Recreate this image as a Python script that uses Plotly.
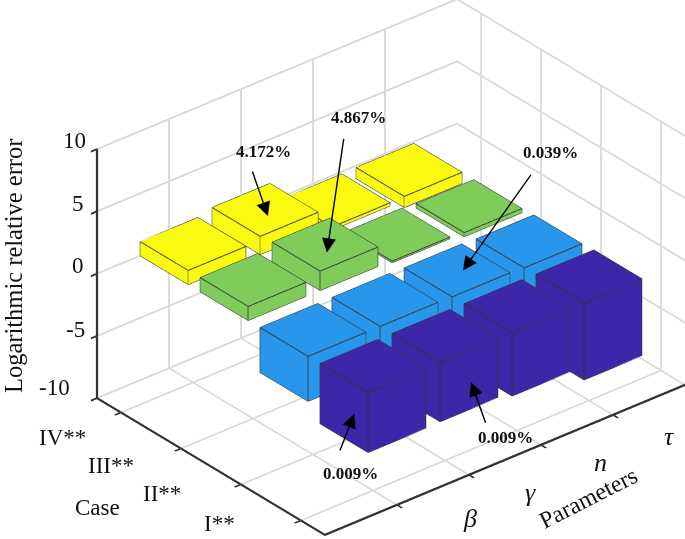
import math

import plotly.graph_objects as go

WIDTH = 685
HEIGHT = 539

cases = ['I**', 'II**', 'III**', 'IV**']
parameters = ['<i>β</i>', '<i>γ</i>', '<i>n</i>', '<i>τ</i>']
z_ticks = [-10, -5, 0, 5, 10]

# bar heights
case_1 = [-4.82, -4.76, -5.08, -6.18]
case_2 = [-3.6, -3.5, -3.3, -3.4]
case_3 = [1.12, 1.55, 0.12, 0.32]
case_4 = [1.12, 1.45, 0.24, 0.88]

# level each bar starts from (the back right bars sit a bit below zero in the picture)
base_1 = [0, 0, -0.02, -0.04]
base_2 = [0, 0, -0.04, -0.12]
base_3 = [0, 0, -0.18, -0.5]
base_4 = [0, 0, -0.44, -1.04]

colors = ['#3D27A8', '#2896EA', '#7FCC5A', '#F9FA0F']
EDGE = '#333333'
GRID = '#D8D8D8'
SERIF = 'Liberation Serif'
BAR = 0.8


def px(x, y):
    return x / WIDTH, 1 - y / HEIGHT


def bar_mesh(xc, yc, base, value, color):
    x0, x1 = xc - BAR / 2, xc + BAR / 2
    y0, y1 = yc - BAR / 2, yc + BAR / 2
    z0, z1 = min(base, base + value), max(base, base + value)
    return go.Mesh3d(
        x=[x0, x1, x1, x0, x0, x1, x1, x0],
        y=[y0, y0, y1, y1, y0, y0, y1, y1],
        z=[z0, z0, z0, z0, z1, z1, z1, z1],
        i=[0, 0, 4, 4, 0, 0, 1, 1, 2, 2, 3, 3],
        j=[1, 2, 5, 6, 1, 5, 2, 6, 3, 7, 0, 4],
        k=[2, 3, 6, 7, 5, 4, 6, 5, 7, 6, 4, 7],
        color=color,
        flatshading=True,
        lighting=dict(ambient=1, diffuse=0, specular=0, roughness=1, fresnel=0),
        hoverinfo='skip',
        showscale=False,
    )


def bar_edges(xc, yc, base, value):
    x0, x1 = xc - BAR / 2, xc + BAR / 2
    y0, y1 = yc - BAR / 2, yc + BAR / 2
    z0, z1 = min(base, base + value), max(base, base + value)
    xs, ys, zs = [], [], []
    for z in (z0, z1):
        xs += [x0, x1, x1, x0, x0, None]
        ys += [y0, y0, y1, y1, y0, None]
        zs += [z, z, z, z, z, None]
    for x, y in ((x0, y0), (x1, y0), (x1, y1), (x0, y1)):
        xs += [x, x, None]
        ys += [y, y, None]
        zs += [z0, z1, None]
    return go.Scatter3d(x=xs, y=ys, z=zs, mode='lines',
                        line=dict(color=EDGE, width=2),
                        hoverinfo='skip', showlegend=False)


traces = []
rows = zip([case_1, case_2, case_3, case_4], [base_1, base_2, base_3, base_4])
for row, (values, bases) in enumerate(rows):
    for col, value in enumerate(values):
        traces.append(bar_mesh(col + 1, row + 1, bases[col], value, colors[row]))
        traces.append(bar_edges(col + 1, row + 1, bases[col], value))

fig = go.Figure(data=traces)

# view(-39.8, 30), orthographic
azimuth = math.radians(39.8)
elevation = math.radians(30)
scale = 1.705
direction = (-math.sin(azimuth) * math.cos(elevation),
             -math.cos(azimuth) * math.cos(elevation),
             math.sin(elevation))
center = dict(x=-0.1412, y=0.1117, z=-0.0081)
eye = dict(x=center['x'] + scale * direction[0],
           y=center['y'] + scale * direction[1],
           z=center['z'] + scale * direction[2])


def axis(vals, rng):
    return dict(
        range=rng,
        tickvals=vals,
        showticklabels=False,
        title=dict(text=''),
        showbackground=False,
        showgrid=True,
        gridcolor=GRID,
        gridwidth=4,
        zeroline=False,
        showline=True,
        linecolor=EDGE,
        linewidth=5,
        ticks='outside',
        ticklen=8,
        tickwidth=4,
        tickcolor=EDGE,
        showspikes=False,
    )


fig.update_layout(
    width=WIDTH,
    height=HEIGHT,
    margin=dict(l=0, r=0, t=0, b=0),
    paper_bgcolor='white',
    showlegend=False,
    font=dict(family=SERIF, color='#111111'),
    scene=dict(
        domain=dict(x=[0, 1], y=[0, 1]),
        xaxis=axis([1, 2, 3, 4], [0, 5]),
        yaxis=axis([1, 2, 3, 4], [0.6, 4.4]),
        zaxis=axis(z_ticks, [-10, 10]),
        aspectmode='manual',
        aspectratio=dict(x=1.739, y=1.321, z=1.067),
        camera=dict(
            projection=dict(type='orthographic'),
            up=dict(x=0, y=0, z=1),
            center=center,
            eye=eye,
        ),
        annotations=[
            dict(x=1.94, y=3.88, z=base_4[1] + case_4[1], ax=-16, ay=-46, text=''),
            dict(x=1.91, y=2.86, z=base_3[1] + case_3[1], ax=17, ay=-115, text=''),
            dict(x=3.05, y=1.96, z=base_2[2], ax=69, ay=-97, text=''),
            dict(x=0.6, y=0.83, z=-2.4, ax=-15, ay=38, text=''),
            dict(x=2.03, y=0.6, z=-2.63, ax=15, ay=42, text=''),
        ],
    ),
)
for ann in fig.layout.scene.annotations:
    ann.showarrow = True
    ann.arrowhead = 2
    ann.arrowsize = 2
    ann.arrowwidth = 1.4
    ann.arrowcolor = 'black'


def label(text, x, y, size=20, angle=0, bold=False):
    px_x, px_y = px(x, y)
    fig.add_annotation(
        xref='paper', yref='paper', x=px_x, y=px_y, text=f'<b>{text}</b>' if bold else text,
        showarrow=False, textangle=angle, xanchor='center', yanchor='middle',
        font=dict(family=SERIF, size=size, color='#111111'),
    )


for text, x, y in zip(['-10', '-5', '0', '5', '10'],
                      [54, 75, 78, 78, 74], [387, 329, 265, 203, 140]):
    label(text, x, y, size=23)
for text, x, y in zip(cases, [219, 162, 111, 63], [523, 493, 465, 437]):
    label(text, x, y, size=23)
for text, x, y in zip(parameters, [470, 530, 600, 669], [518, 492, 462, 436]):
    label(text, x, y, size=26)

label('Case', 98, 507, size=23)
label('Parameters', 588, 498, size=24, angle=-27)
label('Logarithmic relative error', 14, 266, size=24.5, angle=-90)

label('4.172%', 263, 151, size=17, bold=True)
label('4.867%', 358, 117, size=17, bold=True)
label('0.039%', 550, 153, size=17, bold=True)
label('0.009%', 350, 473, size=17, bold=True)
label('0.009%', 505, 437, size=17, bold=True)

# drop the page's default margin so the canvas fills the window
fig.write_html("out.html", config={'displayModeBar': False},
               post_script="document.body.style.margin='0';")
